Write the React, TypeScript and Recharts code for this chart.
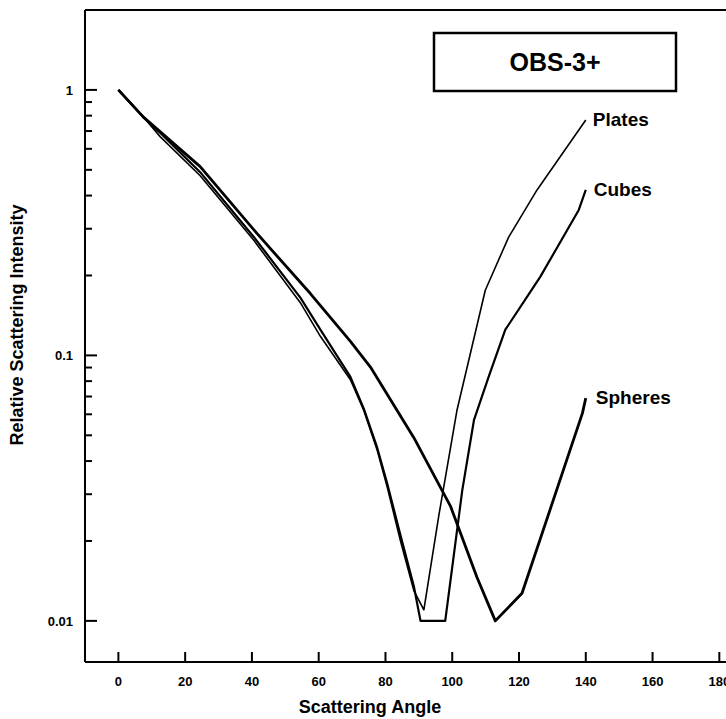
import React from "react";
import { LineChart, Line, XAxis, YAxis, ReferenceLine, Customized, LabelList } from "recharts";

const FONT = "'Liberation Sans', Arial, Helvetica, sans-serif";

// Scattering angle (deg) and relative intensity for each particle shape
const platesAngle = [0, 7.5, 12.5, 24.5, 40.5, 54.5, 60.5, 69.5, 73.5, 77.5, 80.5, 84.5, 88.5, 91.5, 96, 101.4, 109.9, 116.9, 125.4, 140];
const platesValue = [1, 0.79, 0.667, 0.475, 0.272, 0.158, 0.118, 0.081, 0.062, 0.044, 0.032, 0.02, 0.013, 0.011, 0.025, 0.062, 0.176, 0.279, 0.42, 0.77];

const cubesAngle = [0, 7.5, 12.5, 24.5, 40.5, 54.5, 60.5, 69.5, 73.5, 77.5, 80.5, 84.5, 88.5, 90.5, 97.9, 103, 106.5, 110.9, 115.9, 122.4, 126.4, 137.9, 140];
const cubesValue = [1, 0.79, 0.69, 0.49, 0.28, 0.165, 0.125, 0.083, 0.063, 0.045, 0.033, 0.021, 0.0135, 0.01, 0.01, 0.031, 0.057, 0.083, 0.125, 0.166, 0.198, 0.353, 0.42];

const spheresAngle = [0, 7.5, 24.5, 41.5, 57.5, 69.5, 75.5, 88.5, 99.5, 107.4, 112.9, 120.9, 139, 140];
const spheresValue = [1, 0.79, 0.514, 0.288, 0.171, 0.113, 0.0904, 0.049, 0.027, 0.0146, 0.01, 0.0127, 0.0606, 0.069];

const xTicks = [0, 20, 40, 60, 80, 100, 120, 140, 160, 180];
const yMajorTicks = [0.01, 0.1, 1];
const yMinorTicks = [0.02, 0.03, 0.04, 0.05, 0.06, 0.07, 0.08, 0.09, 0.2, 0.3, 0.4, 0.5, 0.6, 0.7, 0.8, 0.9];
const xDomain = [-10, 182];
const yDomain = [0.007, 2.0];

const toRows = (a: number[], v: number[]) => a.map((x, i) => ({ a: x, v: v[i] }));
const platesData = toRows(platesAngle, platesValue);
const cubesData = toRows(cubesAngle, cubesValue);
const spheresData = toRows(spheresAngle, spheresValue);

const YTick = (props: any) => {
  const { x, y, payload } = props;
  const v = payload.value;
  const major = yMajorTicks.includes(v);
  return (
    <g>
      <line x1={x} x2={x + (major ? 12 : 7)} y1={y} y2={y} stroke="#000" strokeWidth={2} />
      {major && (
        <text x={x - 12} y={y} dy={5} textAnchor="end" fontFamily={FONT} fontWeight="bold" fontSize={13} fill="#000">
          {String(v)}
        </text>
      )}
    </g>
  );
};

const XTick = (props: any) => {
  const { x, y, payload } = props;
  return (
    <g>
      <line x1={x} x2={x} y1={y} y2={y - 10} stroke="#000" strokeWidth={2} />
      <text x={x} y={y + 24} textAnchor="middle" fontFamily={FONT} fontWeight="bold" fontSize={13} fill="#000">
        {payload.value}
      </text>
    </g>
  );
};

const endLabel = (name: string, len: number, dx: number) => (p: any) => {
  if (p.index !== len - 1) return null;
  return (
    <text x={p.x + dx} y={p.y + 6} fontFamily={FONT} fontWeight="bold" fontSize={19} fill="#000">
      {name}
    </text>
  );
};

const Decor = () => (
  <g>
    <rect x={434} y={33} width={242} height={58} fill="#fff" stroke="#000" strokeWidth={2.5} />
    <text x={555} y={71} textAnchor="middle" fontFamily={FONT} fontWeight="bold" fontSize={25} fill="#000">
      OBS-3+
    </text>
    <text x={370} y={713} textAnchor="middle" fontFamily={FONT} fontWeight="bold" fontSize={18} fill="#000">
      Scattering Angle
    </text>
    <text x={23} y={325} transform="rotate(-90 23 325)" textAnchor="middle" fontFamily={FONT} fontWeight="bold" fontSize={18} fill="#000">
      Relative Scattering Intensity
    </text>
  </g>
);

export default function App() {
  return (
    <div style={{ position: "absolute", left: 0, top: 0, width: 726, height: 719, overflow: "hidden", background: "#fff" }}>
      <LineChart width={726} height={719} margin={{ top: 10, right: 0, left: 0, bottom: 0 }}>
        <XAxis
          dataKey="a"
          type="number"
          domain={xDomain}
          ticks={xTicks}
          interval={0}
          allowDataOverflow
          height={57}
          tickSize={0}
          tickMargin={0}
          tickLine={false}
          tick={<XTick />}
          axisLine={{ stroke: "#000", strokeWidth: 2 }}
        />
        <YAxis
          type="number"
          scale="log"
          domain={yDomain}
          ticks={[...yMajorTicks, ...yMinorTicks]}
          interval={0}
          allowDataOverflow
          width={85}
          tickSize={0}
          tickMargin={0}
          tickLine={false}
          tick={<YTick />}
          axisLine={{ stroke: "#000", strokeWidth: 2 }}
        />
        <ReferenceLine y={yDomain[1]} stroke="#000" strokeWidth={2} ifOverflow="visible" />
        <Line data={spheresData} dataKey="v" type="linear" stroke="#000" strokeWidth={2.8} dot={false} isAnimationActive={false} strokeLinejoin="round">
          <LabelList dataKey="v" content={endLabel("Spheres", spheresData.length, 10)} />
        </Line>
        <Line data={cubesData} dataKey="v" type="linear" stroke="#000" strokeWidth={2.2} dot={false} isAnimationActive={false} strokeLinejoin="round">
          <LabelList dataKey="v" content={endLabel("Cubes", cubesData.length, 8)} />
        </Line>
        <Line data={platesData} dataKey="v" type="linear" stroke="#000" strokeWidth={1.6} dot={false} isAnimationActive={false} strokeLinejoin="round">
          <LabelList dataKey="v" content={endLabel("Plates", platesData.length, 7)} />
        </Line>
        <Customized component={Decor} />
      </LineChart>
    </div>
  );
}
